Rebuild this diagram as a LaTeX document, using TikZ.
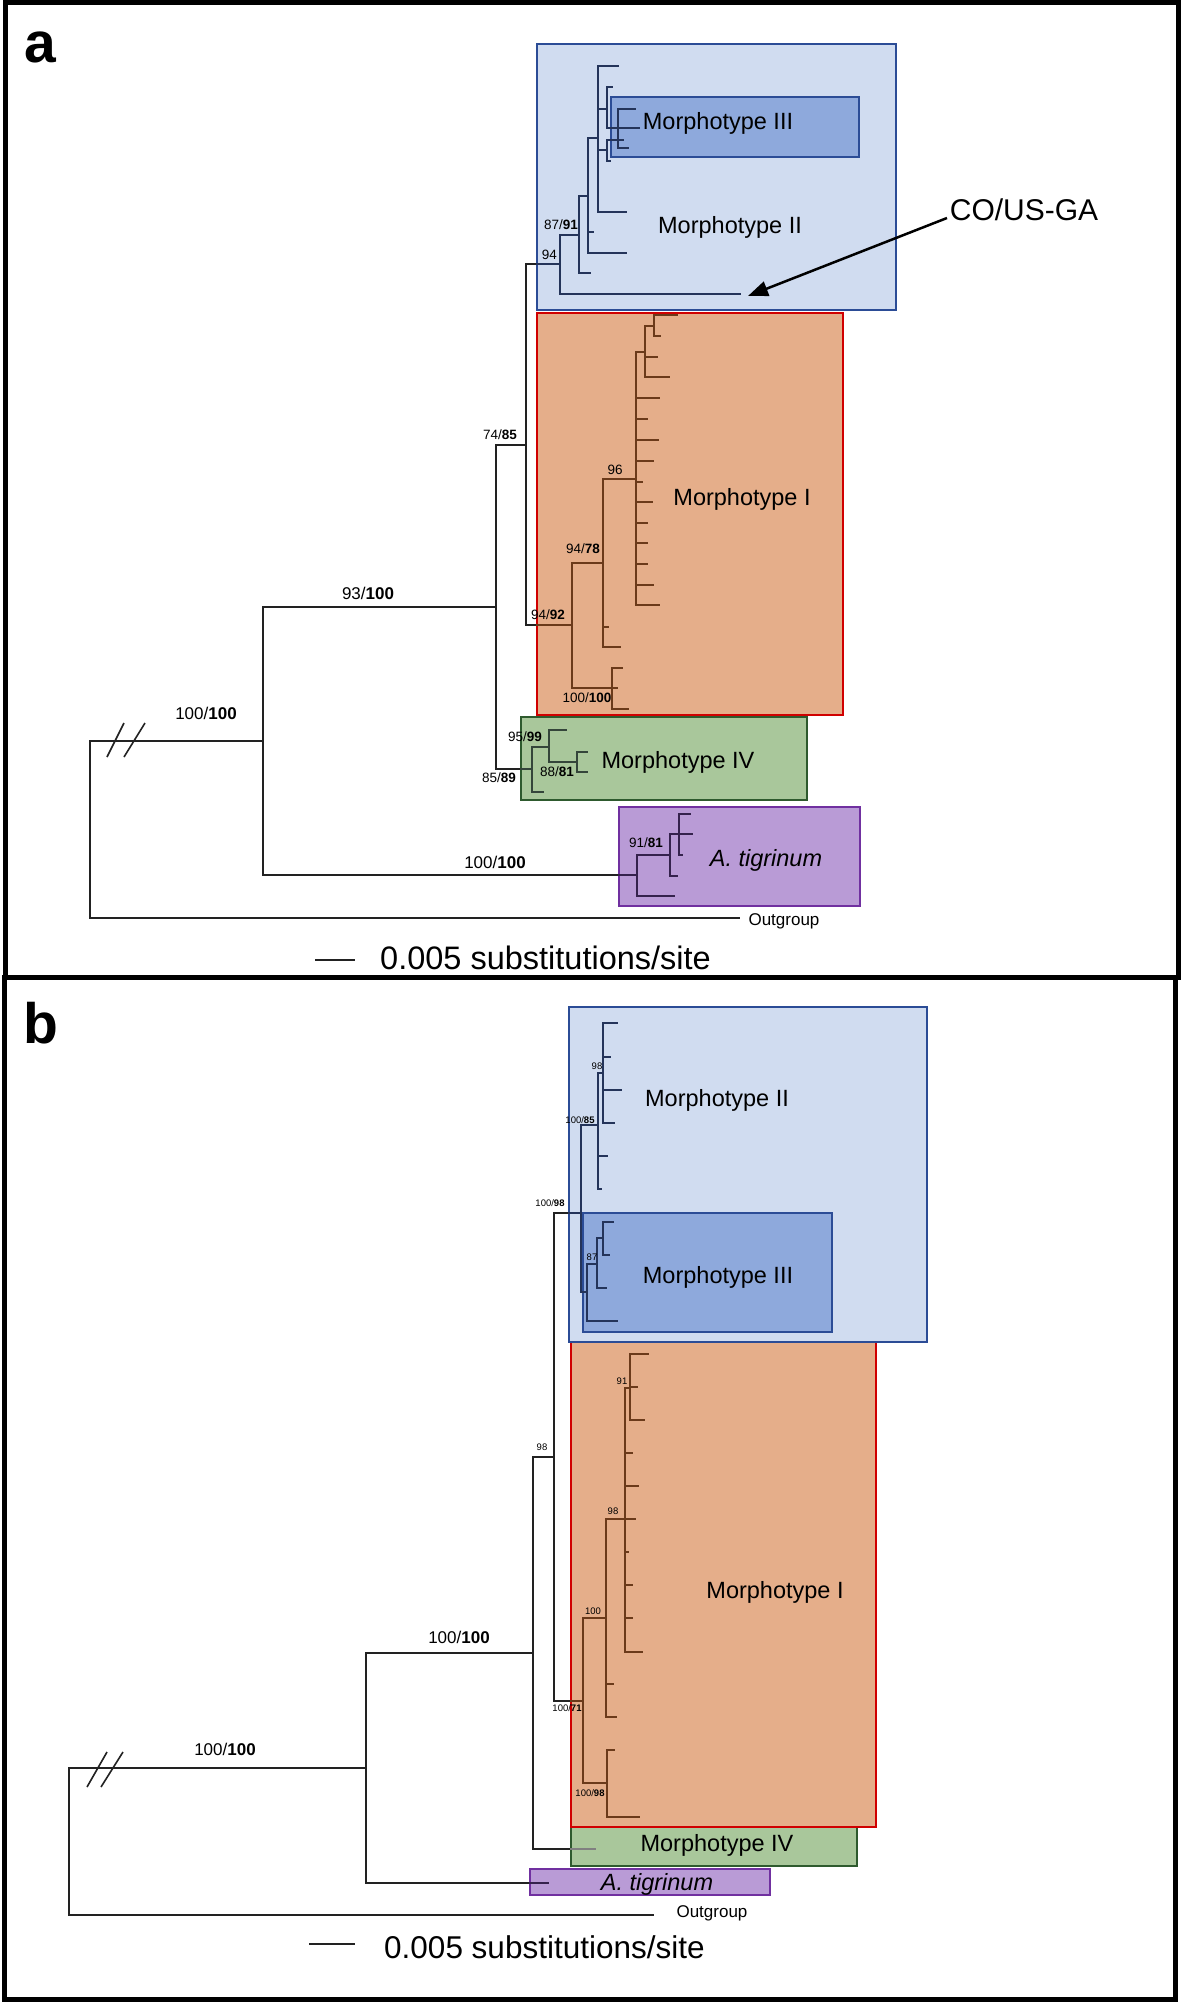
\documentclass[tikz,border=0pt]{standalone}
\usepackage{fontspec}
\setmainfont{Liberation Sans}
\usetikzlibrary{arrows.meta}
\definecolor{bluebg}{HTML}{D0DCF0}
\definecolor{blueln}{HTML}{2B4C96}
\definecolor{bluedk}{HTML}{8EA9DC}
\definecolor{salmonbg}{HTML}{E5AE8A}
\definecolor{redln}{HTML}{D00000}
\definecolor{greenbg}{HTML}{A9C79B}
\definecolor{greenln}{HTML}{2E5A2E}
\definecolor{purpbg}{HTML}{B99BD6}
\definecolor{purpln}{HTML}{7030A0}
\definecolor{navyln}{HTML}{24345A}
\definecolor{brownln}{HTML}{6B3A1A}
\definecolor{grnline}{HTML}{34453A}
\definecolor{purline}{HTML}{35224D}
\definecolor{blkln}{HTML}{222222}
\begin{document}
\begin{tikzpicture}[x=1pt,y=-1pt,
  panel/.style={draw=black,line width=5pt},
  box/.style={line width=2pt},
  tr/.style={line width=2.2pt,line cap=rect},
  morph/.style={font=\fontsize{23.5}{28}\selectfont,inner sep=0pt},
  biglab/.style={font=\fontsize{17}{20}\selectfont,inner sep=0pt},
  midlab/.style={font=\fontsize{13.5}{16}\selectfont,inner sep=0pt},
  tinylab/.style={font=\fontsize{9.5}{11}\selectfont,inner sep=0pt},
  outlab/.style={font=\fontsize{17}{20}\selectfont,inner sep=0pt},
  scalelab/.style={font=\fontsize{32.5}{38}\selectfont,inner sep=0pt,anchor=west},
  letter/.style={font=\fontsize{57}{64}\selectfont\bfseries,inner sep=0pt}]
\useasboundingbox (0,0) rectangle (1181,2004);
\fill[white] (0,0) rectangle (1181,2004);

% ================= PANEL A =================
\draw[panel] (5,3) rectangle (1178,977);
\node[letter] (la) at (40,47) {a};

% boxes
\draw[box,fill=bluebg,draw=blueln] (537,44) rectangle (896,310);
\draw[box,fill=bluedk,draw=blueln] (611,97) rectangle (859,157);
\draw[box,fill=salmonbg,draw=redln] (537,313) rectangle (843,715);
\draw[box,fill=greenbg,draw=greenln] (521,717) rectangle (807,800);
\draw[box,fill=purpbg,draw=purpln] (619,807) rectangle (860,906);

% backbone (black)
\draw[tr,blkln] (90,741) -- (263,741);
\draw[tr,blkln] (90,741) -- (90,918) -- (739,918);
\draw[line width=1.6pt,blkln] (107,757) -- (124,723);
\draw[line width=1.6pt,blkln] (124,757) -- (145,723);
\draw[tr,blkln] (496,607) -- (263,607) -- (263,875) -- (619,875);
\draw[tr,purline] (619,875) -- (637,875);
\draw[tr,blkln] (526,445) -- (496,445) -- (496,769) -- (521,769);
\draw[tr,grnline] (521,769) -- (532,769);
\draw[tr,blkln] (537,264) -- (526,264) -- (526,625) -- (537,625);
\draw[tr,navyln] (537,264) -- (560,264);
\draw[tr,brownln] (537,625) -- (572,625);

% Morphotype II / III clade (navy)
\begin{scope}[tr,navyln]
\draw (579,235) -- (560,235) -- (560,294) -- (740,294);
\draw (588,196) -- (579,196) -- (579,273) -- (590,273);
\draw (598,138) -- (588,138) -- (588,253) -- (626,253);
\draw (588,232) -- (593,232);
\draw (618,66) -- (598,66) -- (598,212) -- (626,212);
\draw (598,109) -- (607,109);
\draw (598,150) -- (607,150);
\draw (612,87) -- (607,87) -- (607,128) -- (639,128);
\draw (635,109) -- (618,109) -- (618,148) -- (628,148);
\draw (623,140) -- (607,140) -- (607,161) -- (610,161);
\end{scope}

% Morphotype I clade (brown)
\begin{scope}[tr,brownln]
\draw (603,563) -- (572,563) -- (572,688) -- (617,688);
\draw (636,479) -- (603,479) -- (603,647) -- (620,647);
\draw (603,627) -- (608,627);
\draw (622,668) -- (612,668) -- (612,709) -- (628,709);
\draw (645,352) -- (636,352) -- (636,605) -- (659,605);
\foreach \yy/\xx in {398/659,419/647,440/658,461/653,482/642,502/652,523/647,543/647,564/647,585/653}
  \draw (636,\yy) -- (\xx,\yy);
\draw (654,326) -- (645,326) -- (645,377) -- (669,377);
\draw (645,357) -- (657,357);
\draw (677,315) -- (654,315) -- (654,336) -- (660,336);
\end{scope}

% Morphotype IV clade
\begin{scope}[tr,grnline]
\draw (549,747) -- (532,747) -- (532,792) -- (543,792);
\draw (566,730) -- (549,730) -- (549,762) -- (577,762);
\draw (587,752) -- (577,752) -- (577,772) -- (587,772);
\end{scope}

% A. tigrinum clade
\begin{scope}[tr,purline]
\draw (670,855) -- (637,855) -- (637,896) -- (674,896);
\draw (670,834) -- (670,876) -- (677,876);
\draw (670,834) -- (692,834);
\draw (690,814) -- (679,814) -- (679,855) -- (682,855);
\end{scope}

% labels panel a
\node[morph] (m3a) at (718,123) {Morphotype III};
\node[morph] (m2a) at (730,227) {Morphotype II};
\node[morph] (m1a) at (742,499) {Morphotype I};
\node[morph] (m4a) at (678,762) {Morphotype IV};
\node[morph] (ata) at (766,860) {\itshape A. tigrinum};
\node[outlab] (oga) at (784,921) {Outgroup};
\node[font=\fontsize{30}{34}\selectfont,inner sep=0pt] (cous) at (1024,210) {CO/US-GA};
\coordinate (costart) at (947,218);
\coordinate (cotip) at (748,296);
\draw[line width=2.5pt,-{Triangle[length=20pt,width=15pt]}] (costart) -- (cotip);

\node[biglab] (sa1) at (206,713) {100/\textbf{100}};
\node[biglab] (sa2) at (368,593) {93/\textbf{100}};
\node[biglab] (sa3) at (495,862) {100/\textbf{100}};
\node[midlab,anchor=east] (sa4) at (517,435) {74/\textbf{85}};
\node[midlab,anchor=east] (sa5) at (578,225) {87/\textbf{91}};
\node[midlab,anchor=east] (sa6) at (557,255) {94};
\node[midlab] (sa7) at (615,470) {96};
\node[midlab] (sa8) at (583,549) {94/\textbf{78}};
\node[midlab] (sa9) at (548,615) {94/\textbf{92}};
\node[midlab] (sa10) at (587,698) {100/\textbf{100}};
\node[midlab] (sa11) at (525,737) {95/\textbf{99}};
\node[midlab] (sa12) at (499,778) {85/\textbf{89}};
\node[midlab] (sa13) at (557,772) {88/\textbf{81}};
\node[midlab] (sa14) at (646,843) {91/\textbf{81}};

% scale bar a
\coordinate (sba1) at (315,960);
\coordinate (sba2) at (355,960);
\draw[line width=1.6pt,blkln] (sba1) -- (sba2);
\node[scalelab] (sta) at (380,958) {0.005 substitutions/site};

% ================= PANEL B =================
\draw[panel] (4,977) rectangle (1175,1999);
\node[letter] (lb) at (41,1023) {b};

\draw[box,fill=greenbg,draw=greenln] (571,1823) rectangle (857,1866);
\draw[box,fill=salmonbg,draw=redln] (571,1342) rectangle (876,1827);
\draw[box,fill=bluebg,draw=blueln] (569,1007) rectangle (927,1342);
\draw[box,fill=bluedk,draw=blueln] (583,1213) rectangle (832,1332);
\draw[box,fill=purpbg,draw=purpln] (530,1869) rectangle (770,1895);

% backbone
\draw[tr,blkln] (69,1768) -- (366,1768);
\draw[tr,blkln] (69,1768) -- (69,1915) -- (653,1915);
\draw[line width=1.6pt,blkln] (87,1787) -- (107,1752);
\draw[line width=1.6pt,blkln] (101,1787) -- (123,1752);
\draw[tr,blkln] (533,1653) -- (366,1653) -- (366,1883) -- (530,1883);
\draw[tr,purline] (530,1883) -- (548,1883);
\draw[tr,blkln] (554,1457) -- (533,1457) -- (533,1849) -- (571,1849);
\draw[tr,gray] (571,1849) -- (595,1849);
\draw[tr,blkln] (569,1213) -- (554,1213) -- (554,1701) -- (571,1701);
\draw[tr,navyln] (569,1213) -- (581,1213);
\draw[tr,brownln] (571,1701) -- (583,1701);

% Morphotype II/III clade b
\begin{scope}[tr,navyln]
\draw (598,1125) -- (581,1125) -- (581,1292) -- (587,1292);
\draw (603,1073) -- (598,1073) -- (598,1189) -- (601,1189);
\draw (598,1156) -- (607,1156);
\draw (617,1023) -- (603,1023) -- (603,1123) -- (614,1123);
\draw (603,1057) -- (610,1057);
\draw (603,1090) -- (621,1090);
\draw (597,1264) -- (587,1264) -- (587,1321) -- (617,1321);
\draw (603,1238) -- (597,1238) -- (597,1288) -- (606,1288);
\draw (613,1222) -- (603,1222) -- (603,1255) -- (609,1255);
\end{scope}

% Morphotype I clade b
\begin{scope}[tr,brownln]
\draw (606,1618) -- (583,1618) -- (583,1783) -- (607,1783);
\draw (625,1519) -- (606,1519) -- (606,1717) -- (616,1717);
\draw (606,1684) -- (613,1684);
\draw (630,1388) -- (625,1388) -- (625,1652) -- (642,1652);
\foreach \yy/\xx in {1453/632,1486/638,1519/635,1552/628,1585/632,1618/632}
  \draw (625,\yy) -- (\xx,\yy);
\draw (648,1354) -- (630,1354) -- (630,1420) -- (644,1420);
\draw (630,1387) -- (637,1387);
\draw (614,1750) -- (607,1750) -- (607,1817) -- (639,1817);
\end{scope}

% labels panel b
\node[morph] (m2b) at (717,1100) {Morphotype II};
\node[morph] (m3b) at (718,1277) {Morphotype III};
\node[morph] (m1b) at (775,1592) {Morphotype I};
\node[morph] (m4b) at (717,1845) {Morphotype IV};
\node[morph] (atb) at (657,1884) {\itshape A. tigrinum};
\node[outlab] (ogb) at (712,1913) {Outgroup};

\node[biglab] (sb1) at (225,1749) {100/\textbf{100}};
\node[biglab] (sb2) at (459,1637) {100/\textbf{100}};
\node[tinylab] (sb3) at (542,1447) {98};
\node[tinylab] (sb4) at (550,1203) {100/\textbf{98}};
\node[tinylab] (sb5) at (580,1120) {100/\textbf{85}};
\node[tinylab] (sb6) at (597,1066) {98};
\node[tinylab] (sb7) at (592,1257) {87};
\node[tinylab] (sb8) at (622,1381) {91};
\node[tinylab] (sb9) at (613,1511) {98};
\node[tinylab] (sb10) at (593,1611) {100};
\node[tinylab] (sb11) at (567,1708) {100/\textbf{71}};
\node[tinylab] (sb12) at (590,1793) {100/\textbf{98}};

% scale bar b
\coordinate (sbb1) at (309,1944);
\coordinate (sbb2) at (355,1944);
\draw[line width=1.6pt,blkln] (sbb1) -- (sbb2);
\node[scalelab,font=\fontsize{31.5}{36}\selectfont] (stb) at (384,1947) {0.005 substitutions/site};
\end{tikzpicture}
\end{document}
